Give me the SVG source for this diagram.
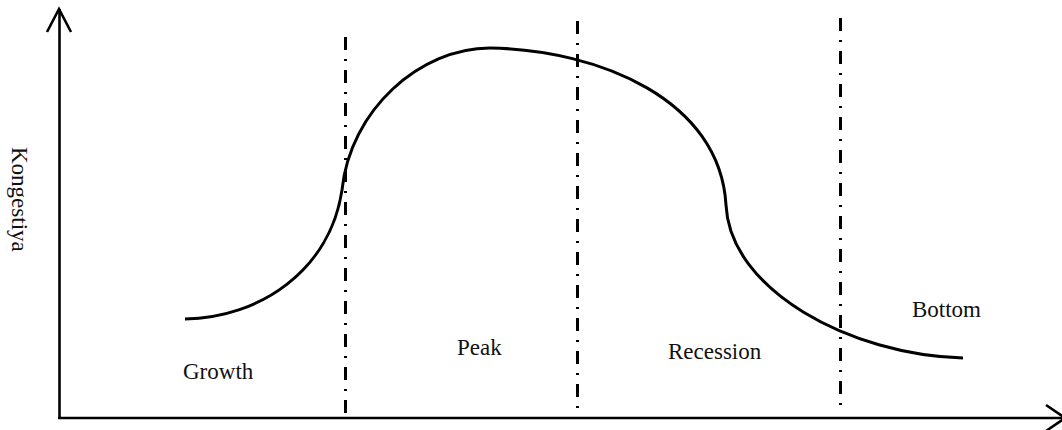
<svg xmlns="http://www.w3.org/2000/svg" width="1062" height="430" viewBox="0 0 1062 430">
<style>
.ax{stroke:#000;stroke-width:2.6;fill:none;stroke-linecap:butt}
.dd{stroke:#000;stroke-width:3;fill:none;stroke-dasharray:13 9 2 9}
.cv{stroke:#000;stroke-width:3;fill:none}
.lb{font-family:"Liberation Serif","Times New Roman",serif;font-size:23px;fill:#111}
</style>
<rect width="1062" height="430" fill="#fff"/>
<g id="axes">
<path class="ax" d="M59.5,9 V418"/>
<path class="ax" d="M47,32 L59,9 L71,32"/>
<path class="ax" d="M58,418 H1062"/>
<path class="ax" d="M1046,405 L1065,418 L1046,431"/>
</g>
<g id="dividers">
<path class="dd" d="M345.5,37 V418"/>
<path class="dd" d="M577.5,21 V412"/>
<path class="dd" d="M840.5,18 V410"/>
</g>
<g id="curve">
<path class="cv" d="M185,319 C260,318 330,270 342,190 C350,110 420,48 490,48 C600,50 720,100 726,205 C730,290 850,355 963,358"/>
</g>
<g id="labels">
<text class="lb" x="183" y="379">Growth</text>
<text class="lb" x="457" y="355">Peak</text>
<text class="lb" x="668" y="359">Recession</text>
<text class="lb" x="912" y="317">Bottom</text>
<text class="lb" transform="translate(12,147) rotate(90)">Kongestiya</text>
</g>
</svg>
